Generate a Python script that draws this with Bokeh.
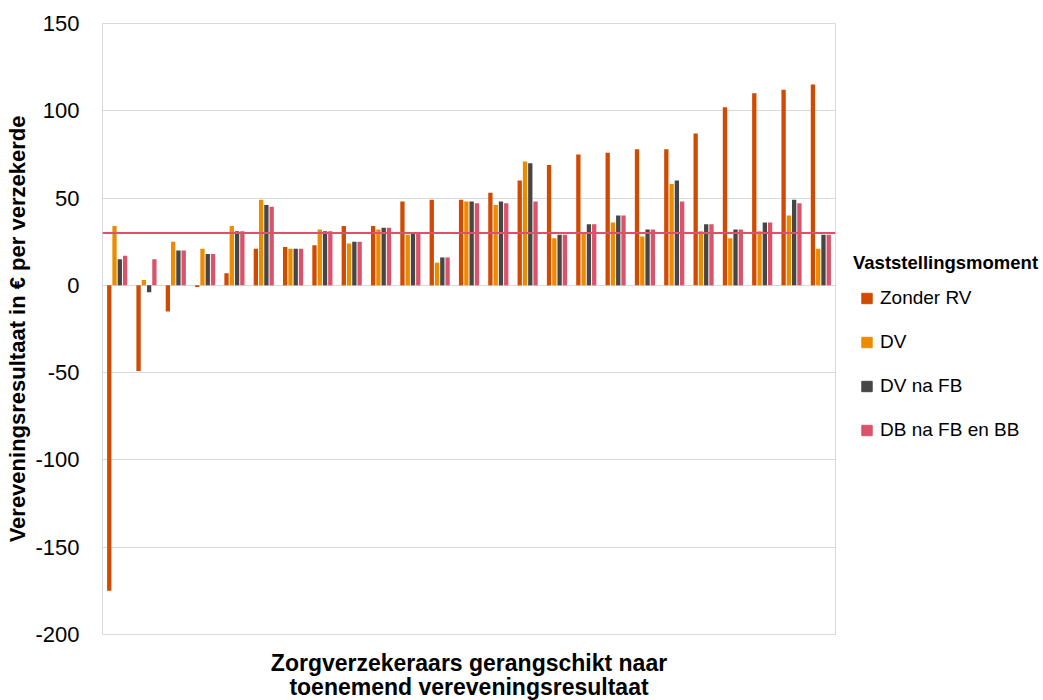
from bokeh.plotting import figure
from bokeh.layouts import row, column
from bokeh.models import (FactorRange, Range1d, Span, Legend, LegendItem, Label,
                          ColumnDataSource, FixedTicker, PrintfTickFormatter)
from bokeh.transform import dodge
from bokeh.embed import file_html
from bokeh.resources import INLINE

insurers = [str(i) for i in range(1, 26)]
zonder_rv = [-175, -49, -15, -1, 7, 21, 22, 23, 34, 34, 48, 49, 49, 53, 60, 69, 75, 76, 78, 78, 87, 102, 110, 112, 115]
dv = [34, 3, 25, 21, 34, 49, 21, 32, 24, 32, 29, 13, 48, 46, 71, 27, 30, 36, 28, 58, 31, 27, 31, 40, 21]
dv_na_fb = [15, -4, 20, 18, 31, 46, 21, 31, 25, 33, 30, 16, 48, 48, 70, 29, 35, 40, 32, 60, 35, 32, 36, 49, 29]
db_na_fb_bb = [17, 15, 20, 18, 31, 45, 21, 31, 25, 33, 30, 16, 47, 47, 48, 29, 35, 40, 32, 48, 35, 32, 36, 47, 29]
reference_value = 30
series_names = ["Zonder RV", "DV", "DV na FB", "DB na FB en BB"]
y_ticks = [-200, -150, -100, -50, 0, 50, 100, 150]
x_title_lines = ["Zorgverzekeraars gerangschikt naar", "toenemend vereveningsresultaat"]

colors = ["#D04A02", "#EB8C00", "#464646", "#DB536A"]
FONT = "Liberation Sans"

src = ColumnDataSource(dict(insurer=insurers, s0=zonder_rv, s1=dv, s2=dv_na_fb, s3=db_na_fb_bb))

# Main chart
p = figure(width=840, height=650, output_backend="svg", toolbar_location=None,
           x_range=FactorRange(factors=insurers, range_padding=0),
           y_range=Range1d(-200, 150),
           min_border_left=102, min_border_right=5, min_border_top=23, min_border_bottom=16)

offsets = [-0.27, -0.09, 0.09, 0.27]
for i, (key, c) in enumerate(zip(["s0", "s1", "s2", "s3"], colors)):
    p.vbar(x=dodge("insurer", offsets[i], range=p.x_range), top=key, bottom=0,
           width=0.147, source=src, fill_color=c, line_color=None)

p.add_layout(Span(location=reference_value, dimension="width", line_color="#E0506A", line_width=2))

p.xaxis.visible = False
p.xgrid.visible = False
p.ygrid.grid_line_color = "#D9D9D9"
p.ygrid.grid_line_width = 1
p.outline_line_color = "#D9D9D9"

p.yaxis.ticker = FixedTicker(ticks=y_ticks)
p.yaxis.formatter = PrintfTickFormatter(format="%d")
p.yaxis.axis_line_color = None
p.yaxis.major_tick_line_color = None
p.yaxis.minor_tick_line_color = None
p.yaxis.major_label_text_font = FONT
p.yaxis.major_label_text_font_size = "22px"
p.yaxis.major_label_text_color = "#000000"
p.yaxis.major_label_standoff = 17
p.yaxis.axis_label = "Vereveningsresultaat in € per verzekerde"
p.yaxis.axis_label_text_font = FONT
p.yaxis.axis_label_text_font_size = "22px"
p.yaxis.axis_label_text_font_style = "bold"
p.yaxis.axis_label_text_color = "#000000"
p.yaxis.axis_label_standoff = 2

# X-axis title strip (two centred lines under the plot area; its frame is aligned with p's)
xt = figure(width=840, height=50, output_backend="svg", toolbar_location=None,
            x_range=Range1d(0, 1), y_range=Range1d(0, 1),
            min_border_left=0, min_border_right=0, min_border_top=0, min_border_bottom=0)
xt.axis.visible = False
xt.grid.visible = False
xt.outline_line_color = None
half_frame = (835 - 102) / 2
for txt, yy in zip(x_title_lines, [38, 14]):
    xt.add_layout(Label(x=half_frame, y=yy, x_units="screen", y_units="screen", text=txt,
                        text_align="center", text_baseline="middle", text_font=FONT,
                        text_font_size="23px", text_font_style="bold", text_color="#000000"))

# Legend panel
lg = figure(width=203, height=700, output_backend="svg", toolbar_location=None,
            x_range=Range1d(0, 1), y_range=Range1d(0, 1),
            min_border_left=0, min_border_right=0, min_border_top=0, min_border_bottom=0)
lg.axis.visible = False
lg.grid.visible = False
lg.outline_line_color = None

legend_items = []
for name, c in zip(series_names, colors):
    sw = lg.scatter(x=[float("nan")], y=[float("nan")], marker="square", fill_color=c, line_color=c)
    legend_items.append(LegendItem(label=name, renderers=[sw]))

legend = Legend(items=legend_items, location=(13, 257), padding=0, margin=0, spacing=18,
                glyph_width=27, glyph_height=26, label_height=20, label_standoff=0,
                label_text_font=FONT, label_text_font_size="19px", label_text_color="#000000",
                title="Vaststellingsmoment", title_text_font=FONT, title_text_font_size="18.5px",
                title_text_font_style="bold", title_text_color="#000000", title_standoff=11,
                border_line_color=None, background_fill_alpha=0)
lg.add_layout(legend, "center")

layout = row(column(p, xt), lg)
open("out.html", "w").write(file_html(layout, INLINE))
